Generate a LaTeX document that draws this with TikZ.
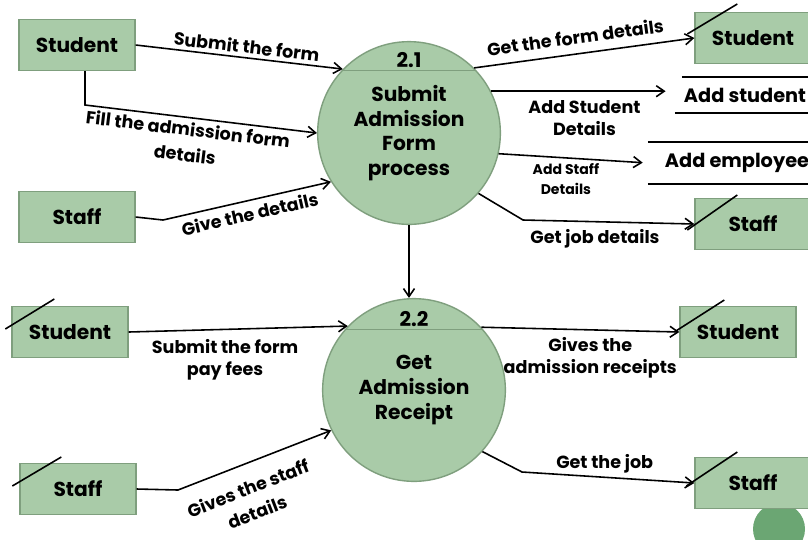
\documentclass[tikz,border=0pt]{standalone}
\usepackage{fontspec}
\setmainfont{Poppins}
\usetikzlibrary{arrows.meta}
\definecolor{sage}{HTML}{A9CBA8}
\definecolor{sageline}{HTML}{7F9F7E}
\definecolor{dotgreen}{HTML}{6BA673}
\tikzset{%
  >={Straight Barb[width=2.2mm,length=1.6mm]},
  % Specifications for style of nodes:
            base/.style = {rectangle, draw=sageline, fill=sage, line width=0.8pt,
                           minimum width=66pt, minimum height=29pt, inner sep=0pt,
                           text centered, font=\bfseries\fontsize{11.5}{13}\selectfont},
        entity/.style = {base},
       process/.style = {circle, draw=sageline, fill=sage, line width=0.8pt,
                           minimum size=104pt, inner sep=0pt, align=center,
                           font=\bfseries\fontsize{11.5}{14}\selectfont},
         store/.style = {rectangle, inner sep=0pt, text centered,
                           font=\bfseries\fontsize{11}{13}\selectfont},
         storeline/.style = {line width=0.9pt},
         flow/.style = {->, line width=0.9pt},
         lbl/.style = {align=center, inner sep=1pt, font=\bfseries\fontsize{10}{12.5}\selectfont},
         tiltlbl/.style = {lbl, sloped, font=\bfseries\fontsize{10}{14.5}\selectfont},
         slash/.style = {line width=0.9pt},
}
\begin{document}
\begin{tikzpicture}[x=0.02cm, y=-0.02cm]
  \useasboundingbox (0,0) rectangle (808,539);
  % decoration dot at the corner
  \fill[dotgreen] (779,529) circle (26);

  % processes
  \node (p21) [process] at (409,133) {Submit\\Admission\\Form\\process};
  \node (p22) [process] at (414,390) {Get\\Admission\\Receipt};
  \draw[sageline, line width=0.8pt] (p21.137) -- (p21.43);
  \draw[sageline, line width=0.8pt] (p22.139) -- (p22.41);
  \node (n21) [font=\bfseries\fontsize{11.5}{13}\selectfont] at (409,60) {2.1};
  \node (n22) [font=\bfseries\fontsize{11.5}{13}\selectfont] at (414,319) {2.2};

  % sources on the left
  \node (stuA) [entity] at (77,45) {Student};
  \node (staffA) [entity] at (77,217) {Staff};
  \node (stuC) [entity] at (70,332) {Student};
  \node (staffC) [entity] at (78,489) {Staff};

  % sinks and stores on the right
  \node (stuB) [entity] at (753,38) {Student};
  \node (staffB) [entity] at (753,224) {Staff};
  \node (stuD) [entity] at (738,332) {Student};
  \node (staffD) [entity] at (753,483) {Staff};
  \node (dsStu) [store, minimum width=134*0.567pt, minimum height=35*0.567pt] at (745,95) {Add student};
  \node (dsEmp) [store, minimum width=178*0.567pt, minimum height=42*0.567pt] at (737,163) {Add employee};
  \draw[storeline] (dsStu.north west) ++(4,0) -- (dsStu.north east);
  \draw[storeline] (dsStu.south west) ++(-3,0) -- (dsStu.south east);
  \draw[storeline] (dsEmp.north west) -- (dsEmp.north east);
  \draw[storeline] (dsEmp.south west) -- (dsEmp.south east);

  % slashes on duplicated entities
  \draw[slash] (stuB.west) ++(-7,-4) -- ++(50,-30);
  \draw[slash] (staffB.west) ++(-7,6) -- ++(50,-35);
  \draw[slash] (stuC.west) ++(-6,-3) -- ++(49,-30);
  \draw[slash] (staffC.west) ++(-7,-3) -- ++(49,-29);
  \draw[slash] (stuD.west) ++(-5,0) -- ++(50,-32);
  \draw[slash] (staffD.west) ++(-8,3) -- ++(51,-34);

  \coordinate (bendA) at (85,105);
  \coordinate (bendB) at (163,220);
  \coordinate (bendC) at (523,220);
  \coordinate (bendD) at (178,490);
  \coordinate (bendE) at (522,472);

  % flows into 2.1
  \draw[flow] (stuA.east) -- (p21.136)
    node[lbl, pos=0.53, above=1pt, sloped] (l1) {Submit the form};
  \draw[flow] (stuA.south -| bendA) -- (bendA) -- (p21.180)
    node[tiltlbl, pos=0.45, below=1pt] (l2) {Fill the admission form\\details};
  \draw[flow] (staffA.east) -- (bendB) -- (p21.212)
    node[lbl, pos=0.5, below=2pt, sloped] (l3) {Give the details};
  % flows out of 2.1
  \draw[flow] (p21.45) -- (stuB.west)
    node[lbl, pos=0.47, above=4pt, sloped] (l4) {Get the form details};
  \draw[flow, shorten >=7pt] (p21.27) -- (p21.27 -| dsStu.west)
    node[lbl, pos=0.5, below=4pt] (l5) {Add Student\\Details};
  \draw[flow, shorten >=3pt] (p21.-13) -- (dsEmp.west)
    node[lbl, pos=0.45, below=2pt, font=\bfseries\fontsize{8}{11}\selectfont] (l6) {Add Staff\\Details};
  \draw[flow] (p21.-41) -- (bendC) -- (staffB.west)
    node[lbl, pos=0.42, below=3pt] (l7) {Get job details};
  \draw[flow] (p21.south) -- (p21.south |- p22.north);

  % flows into 2.2
  \draw[flow] (stuC.east) -- (p22.136)
    node[lbl, pos=0.44, below=4pt] (l8) {Submit the form\\pay fees};
  \draw[flow] (staffC.east) -- (bendD) -- (p22.206)
    node[tiltlbl, pos=0.4, below=8pt] (l9) {Gives the staff\\details};
  % flows out of 2.2
  \draw[flow] (p22.43) -- (stuD.west)
    node[lbl, pos=0.55, below=3pt] (l10) {Gives the\\admission receipts};
  \draw[flow] (p22.-42) -- (bendE) -- (staffD.west)
    node[lbl, pos=0.48, above=1pt] (l11) {Get the job};
\end{tikzpicture}
\end{document}
